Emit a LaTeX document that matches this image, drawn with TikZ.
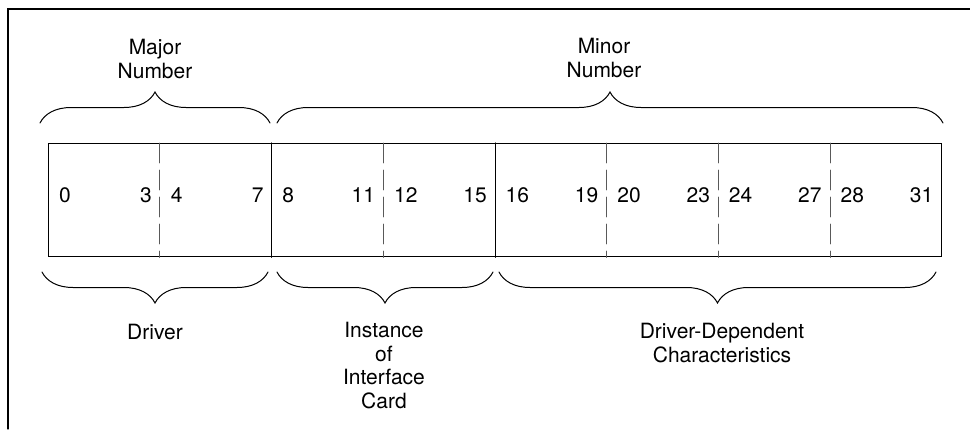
\documentclass[tikz,border=0pt]{standalone}
\usepackage{fontspec}
\setmainfont{TeX Gyre Heros}
\usetikzlibrary{calc}
\usetikzlibrary{decorations.pathreplacing}

\tikzset{
  txt/.style={inner sep=0pt,font=\fontsize{21}{23.5}\selectfont},
  lbl/.style={txt,align=center,anchor=north},
  upbrace/.style={decorate,decoration={brace,amplitude=31pt},line width=1pt},
  downbrace/.style={decorate,decoration={brace,mirror,amplitude=31pt},line width=1pt},
  nibble/.style={dash pattern=on 20pt off 7pt,black!65,line width=0.9pt}
}

\begin{document}
\begin{tikzpicture}[x=1pt,y=-1pt,line cap=round]
			\useasboundingbox (0,0) rectangle (970,429);
			\draw[line width=1.2pt] (970,9) -- (8,9) -- (8,429);
			% the 32 bit word
			\node[draw,line width=1.3pt,minimum width=893pt,minimum height=113pt,inner sep=0pt,anchor=north west] (reg) at (48,143) {};
			\foreach \i in {1,3,5,6,7}
			\draw[nibble] ($(reg.north west)!\i/8!(reg.north east)$) -- ($(reg.south west)!\i/8!(reg.south east)$);
			\foreach \i in {2,4}
			\draw[line width=1.1pt] ($(reg.north west)!\i/8!(reg.north east)$) -- ($(reg.south west)!\i/8!(reg.south east)$);
			\foreach \i in {0,...,7}{
				\pgfmathtruncatemacro\lo{4*\i}
				\pgfmathtruncatemacro\hi{4*\i+3}
				\node[txt,anchor=base west] (b\lo) at (48+111.625*\i+11,202) {\lo};
				\node[txt,anchor=base east] (b\hi) at (48+111.625*\i+104,202) {\hi};
			}
			% braces and fields
			\draw[upbrace] (40,123) -- (270,123);
			\draw[upbrace] (277,123) -- (943,123);
			\draw[downbrace] (42,272) -- (268,272);
			\draw[downbrace] (277,272) -- (493,272);
			\draw[downbrace] (499,272) -- (936,272);
			\node[lbl] (major) at (155,39) {Major\\Number};
			\node[lbl] (minor) at (604,38) {Minor\\Number};
			\node[lbl] (driver) at (155,324) {Driver};
			\node[lbl] (inst) at (384,322) {Instance\\of\\Interface\\Card};
			\node[lbl] (ddc) at (722,323) {Driver-Dependent\\Characteristics};
		\end{tikzpicture}
\end{document}
